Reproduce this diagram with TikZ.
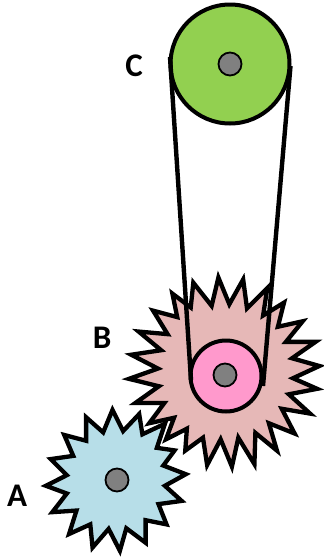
\documentclass[tikz,border=0pt]{standalone}
\usepackage{fontspec}
\setmainfont{Carlito}
\definecolor{gearb}{HTML}{E6B8B7}
\definecolor{geara}{HTML}{B7DEE8}
\definecolor{pulleyb}{HTML}{FF99CC}
\definecolor{pulleyc}{HTML}{92D050}
\definecolor{axle}{HTML}{808080}
\tikzset{
  gearline/.style={draw=black,line width=4.3pt,line join=miter,miter limit=6},
  pulley/.style={draw=black,line width=4pt},
  axlestyle/.style={draw=black,line width=1.8pt,fill=axle},
  belt/.style={draw=black,line width=4.4pt},
  lab/.style={font=\bfseries\fontsize{33}{33}\selectfont,inner sep=0pt}
}
\begin{document}
\begin{tikzpicture}[x=1pt,y=-1pt]
\useasboundingbox (0,0) rectangle (324,557);
% gear B
\begin{scope}[scale around={0.965:(225,375)}]
\begin{scope}[shift={(120.5,270)},x=0.3333pt,y=-0.3333pt]
\path[gearline,fill=gearb] (293,12)--(327,95)--(370,18)--(382,108)--(445,45)--(432,130)--(497,90)--(478,165)--(555,148)--(503,212)--(595,212)--(522,263)--(607,287)--(525,325)--(600,358)--(512,375)--(578,435)--(490,420)--(530,497)--(450,465)--(475,550)--(408,495)--(405,592)--(355,510)--(335,600)--(300,515)--(258,595)--(245,510)--(190,550)--(195,482)--(130,515)--(155,448)--(78,465)--(125,402)--(35,402)--(108,350)--(15,327)--(105,295)--(22,252)--(115,238)--(45,180)--(135,188)--(90,115)--(165,135)--(150,62)--(207,105)--(215,28)--(272,100)--cycle;
\end{scope}
\end{scope}
% gear A
\begin{scope}[scale around={0.965:(117,480)}]
\begin{scope}[shift={(30,400)},x=0.3333pt,y=-0.3333pt]
\path[gearline,fill=geara] (247,22)--(280,88)--(330,35)--(340,98)--(410,65)--(385,140)--(440,148)--(405,195)--(475,222)--(410,258)--(462,305)--(390,315)--(415,378)--(350,365)--(350,435)--(290,390)--(270,460)--(235,392)--(185,450)--(178,378)--(112,408)--(135,335)--(60,340)--(105,282)--(40,258)--(105,225)--(55,175)--(125,165)--(97,100)--(165,118)--(165,45)--(218,92)--cycle;
\end{scope}
\end{scope}
\node[circle,axlestyle,minimum size=23pt,inner sep=0pt] (axa) at (117,480) {};
% pulleys
\node[circle,pulley,fill=pulleyc,minimum size=119pt,inner sep=0pt] (pc) at (230,64) {};
\node[circle,pulley,fill=pulleyb,minimum size=71pt,inner sep=0pt] (pb) at (226,376) {};
\node[circle,axlestyle,minimum size=23pt,inner sep=0pt] (axc) at (230,64) {};
\node[circle,axlestyle,minimum size=23pt,inner sep=0pt] (axb) at (225,375) {};
% belt
\draw[belt] ([xshift=1.5pt,yshift=7pt]pc.west) -- ([xshift=2.5pt,yshift=-4pt]pb.west);
\draw[belt] ([xshift=-1pt,yshift=-2pt]pc.east) -- ([xshift=-0.5pt,yshift=-10pt]pb.east);
% labels
\node[lab] (lc) at (134,66) {C};
\node[lab] (lb) at (102,338) {B};
\node[lab] (la) at (17,496) {A};
\end{tikzpicture}
\end{document}
